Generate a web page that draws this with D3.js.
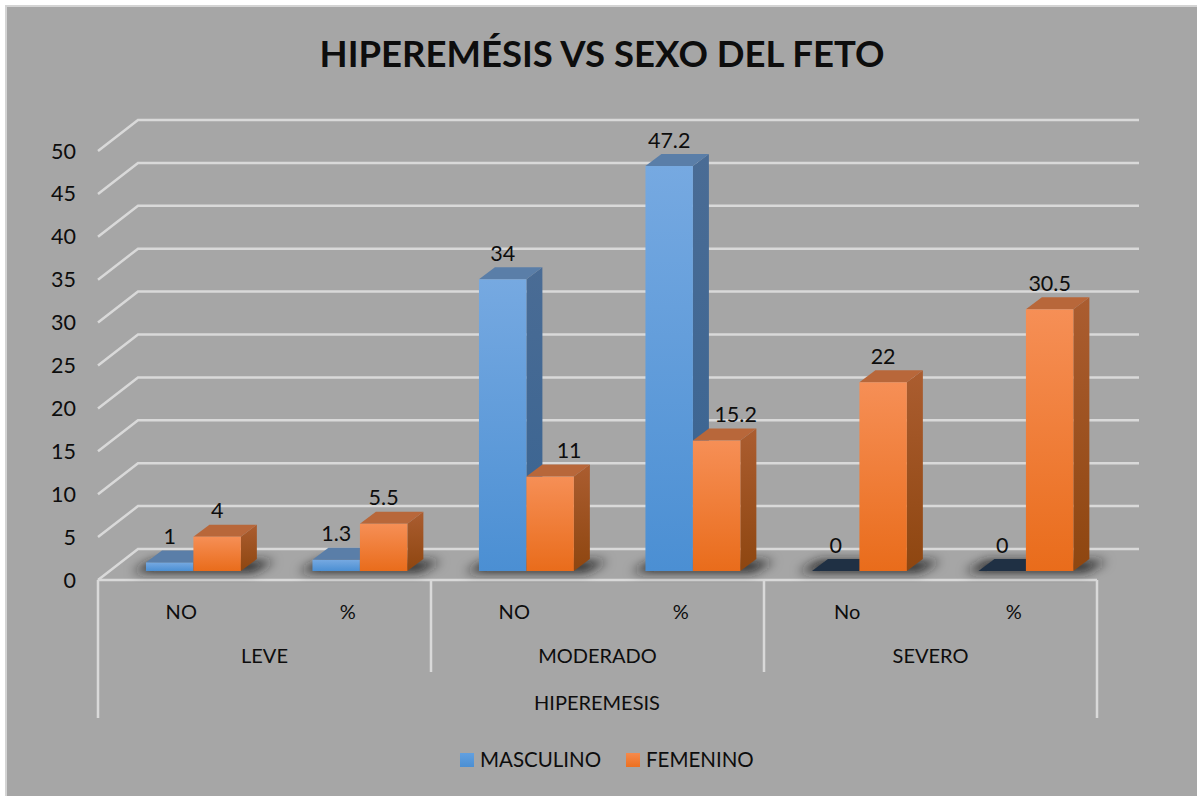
<!DOCTYPE html>
<html>
<head>
<meta charset="utf-8">
<script src="https://cdn.jsdelivr.net/npm/d3@7"></script>
<style>
  html, body { margin: 0; padding: 0; background: #fff; }
  svg { display: block; }
  text { font-family: Lato, "Open Sans", sans-serif; fill: #0d0d0d; }
</style>
</head>
<body>
<script>
const svgWidth = 1197,
    svgHeight = 796;

const chartTitle = "HIPEREMÉSIS VS SEXO DEL FETO";
const axisTitle = "HIPEREMESIS";
const groups = ["LEVE", "MODERADO", "SEVERO"];
const subLabels = ["NO", "%", "NO", "%", "No", "%"];
const seriesNames = ["MASCULINO", "FEMENINO"];
const masculino = [1, 1.3, 34, 47.2, 0, 0];
const femenino = [4, 5.5, 11, 15.2, 22, 30.5];
const valueTicks = [0, 5, 10, 15, 20, 25, 30, 35, 40, 45, 50];

// 3d look: the wall sits up and to the right of the front plane
const wallDx = 40, wallDy = -31;
const barDx = 16, barDy = -12;
const floorGap = 9;

const svg = d3.select("body").append("svg")
    .attr("width", svgWidth)
    .attr("height", svgHeight);

const defs = svg.append("defs");

function vGrad(id, top, bottom) {
    const g = defs.append("linearGradient").attr("id", id)
        .attr("x1", 0).attr("y1", 0).attr("x2", 0).attr("y2", 1);
    g.append("stop").attr("offset", "0%").attr("stop-color", top);
    g.append("stop").attr("offset", "100%").attr("stop-color", bottom);
}
vGrad("frontBlue", "#76a9e1", "#4b8fd3");
vGrad("frontOrange", "#f68f56", "#e96c1b");
vGrad("sideBlue", "#4a6c95", "#386391");
vGrad("sideOrange", "#ab5d30", "#8e4610");
vGrad("legendBlue", "#62a0e0", "#4b8fd3");
vGrad("legendOrange", "#f68a4c", "#ec7020");

defs.append("filter").attr("id", "floorShadow")
    .attr("x", "-30%").attr("y", "-100%").attr("width", "160%").attr("height", "300%")
    .append("feGaussianBlur").attr("stdDeviation", 5.5);

const x0 = d3.scaleBand().domain(groups).range([98, 1097]);
const x1 = d3.scaleBand().domain(d3.range(subLabels.length)).range([98, 1097]);
const y = d3.scaleLinear().domain([0, 50]).range([580, 151]);

// position of the two bars inside a sub category
const barW = x1.bandwidth() * 0.285;
const barX = (i, s) => x1(i) + x1.bandwidth() * 0.288 + s * barW;

// background + border, the grey runs off the right and bottom of the page
svg.append("rect")
    .attr("x", 6).attr("y", 6)
    .attr("width", svgWidth + 10).attr("height", svgHeight + 10)
    .attr("fill", "#a6a6a6")
    .attr("stroke", "#d4d4d4").attr("stroke-width", 2);

// gridlines, with the diagonal on the left side wall
svg.append("g").selectAll("path")
    .data(valueTicks).enter()
    .append("path")
    .attr("fill", "none")
    .attr("stroke", "#d9d9d9")
    .attr("stroke-width", 2.5)
    .attr("d", d => d3.line()([
        [98, y(d)],
        [98 + wallDx, y(d) + wallDy],
        [1097 + wallDx + 2, y(d) + wallDy]
    ]));

// value labels
svg.append("g").selectAll("text")
    .data(valueTicks).enter()
    .append("text")
    .attr("x", 76)
    .attr("y", d => y(d))
    .attr("dy", "0.35em")
    .attr("text-anchor", "end")
    .attr("font-size", 21.5)
    .text(d => d);

// front edge and dividers of the multi level axis
const axisLines = svg.append("g")
    .attr("fill", "none")
    .attr("stroke", "#d9d9d9")
    .attr("stroke-width", 2.5);
axisLines.append("path").attr("d", d3.line()([[98, y(0)], [1097, y(0)]]));
axisLines.selectAll(".divider")
    .data(d3.range(groups.length + 1)).enter()
    .append("path")
    .attr("class", "divider")
    .attr("d", i => {
        const xp = 98 + i * x0.bandwidth();
        const end = (i === 0 || i === groups.length) ? 718 : 672;
        return d3.line()([[xp, y(0)], [xp, end]]);
    });

// floor shadow, under each pair of bars
const base = y(0) - floorGap;
const bars = svg.append("g");

bars.selectAll(".shadow")
    .data(subLabels.map((d, i) => i)).enter()
    .append("path")
    .attr("class", "shadow")
    .attr("fill", "#1c1c1c")
    .attr("filter", "url(#floorShadow)")
    .attr("d", i => {
        const l = barX(i, 0), r = barX(i, 2);
        return d3.line()([
            [l - 14, base + 1],
            [l + barDx - 8, base + barDy + 2],
            [r + barDx + 18, base + barDy + 2],
            [r + 12, base + 1]
        ]) + "Z";
    });

function drawBar(i, s, v) {
    const l = barX(i, s), r = l + barW, t = y(v) - floorGap;
    const g = bars.append("g");
    const blue = s === 0;
    // a zero bar shows only a dark patch on the floor
    const topFill = v === 0 ? "#1f3044" : (blue ? "#5a7ea8" : "#b8673a");
    if (v > 0) {
        g.append("path")
            .attr("fill", `url(#${blue ? "sideBlue" : "sideOrange"})`)
            .attr("d", d3.line()([[r, t], [r + barDx, t + barDy], [r + barDx, base + barDy], [r, base]]) + "Z");
    }
    g.append("path")
        .attr("fill", topFill)
        .attr("d", d3.line()([[l, t], [l + barDx, t + barDy], [r + barDx, t + barDy], [r, t]]) + "Z");
    if (v > 0) {
        g.append("rect")
            .attr("x", l).attr("y", t)
            .attr("width", barW).attr("height", base - t)
            .attr("fill", `url(#${blue ? "frontBlue" : "frontOrange"})`);
    }
}

subLabels.forEach((d, i) => {
    drawBar(i, 0, masculino[i]);
    drawBar(i, 1, femenino[i]);
});

// data labels, femenino moves to the right when the masculino bar is taller
function drawLabel(i, s, v) {
    const nudge = (s === 1 && masculino[i] > v) ? 19 : 0;
    svg.append("text")
        .attr("x", barX(i, s) + barW / 2 + nudge)
        .attr("y", y(v) - floorGap + barDy - 14)
        .attr("dy", "0.35em")
        .attr("text-anchor", "middle")
        .attr("font-size", 21.5)
        .text(v);
}
subLabels.forEach((d, i) => {
    drawLabel(i, 0, masculino[i]);
    drawLabel(i, 1, femenino[i]);
});

// category labels
svg.append("g").selectAll("text")
    .data(subLabels).enter()
    .append("text")
    .attr("x", (d, i) => x1(i) + x1.bandwidth() / 2)
    .attr("y", 612)
    .attr("dy", "0.35em")
    .attr("text-anchor", "middle")
    .attr("font-size", 20)
    .text(d => d);

svg.append("g").selectAll("text")
    .data(groups).enter()
    .append("text")
    .attr("x", d => x0(d) + x0.bandwidth() / 2)
    .attr("y", 656)
    .attr("dy", "0.35em")
    .attr("text-anchor", "middle")
    .attr("font-size", 20)
    .text(d => d);

svg.append("text")
    .attr("x", 597).attr("y", 703)
    .attr("dy", "0.35em")
    .attr("text-anchor", "middle")
    .attr("font-size", 20)
    .text(axisTitle);

// title
svg.append("text")
    .attr("x", 602).attr("y", 54)
    .attr("dy", "0.35em")
    .attr("text-anchor", "middle")
    .attr("font-size", 36.5)
    .attr("font-weight", 700)
    .text(chartTitle);

// legend
const legendX = [460, 626];
const legendFill = ["url(#legendBlue)", "url(#legendOrange)"];
const legend = svg.append("g").selectAll("g")
    .data(seriesNames).enter()
    .append("g")
    .attr("transform", (d, i) => "translate(" + legendX[i] + ", 753)");
legend.append("rect")
    .attr("width", 14).attr("height", 14)
    .attr("fill", (d, i) => legendFill[i]);
legend.append("text")
    .attr("x", 20).attr("y", 7)
    .attr("dy", "0.35em")
    .attr("font-size", 20.5)
    .text(d => d);
</script>
</body>
</html>
